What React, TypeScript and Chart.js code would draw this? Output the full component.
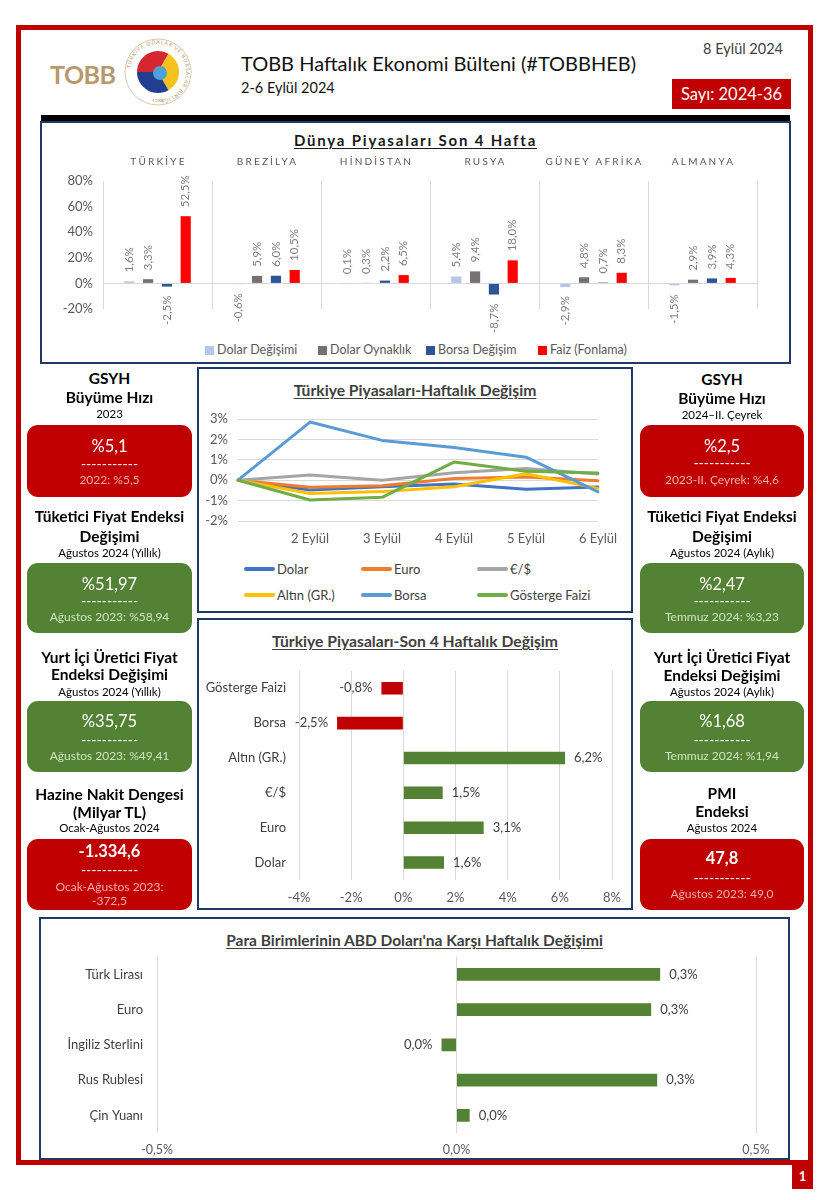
import React, { useEffect, useRef } from "react";
import { Chart, registerables } from "chart.js";

Chart.register(...registerables);

const FONT = "Lato, 'Noto Sans', sans-serif";
Chart.defaults.font.family = FONT;

// ---------- Dünya Piyasaları Son 4 Hafta ----------
const worldCountries = ["TÜRKİYE", "BREZİLYA", "HİNDİSTAN", "RUSYA", "GÜNEY AFRİKA", "ALMANYA"];
const worldSeriesNames = ["Dolar Değişimi", "Dolar Oynaklık", "Borsa Değişim", "Faiz (Fonlama)"];
const dolarDegisimi = [1.6, -0.6, 0.1, 5.4, -2.9, -1.5];
const dolarOynaklik = [3.3, 5.9, 0.3, 9.4, 4.8, 2.9];
const borsaDegisim = [-2.5, 6.0, 2.2, -8.7, 0.7, 3.9];
const faizFonlama = [52.5, 10.5, 6.5, 18.0, 8.3, 4.3];
const worldYTicks = [-20, 0, 20, 40, 60, 80];
const worldColors = ["#b4c7e7", "#767171", "#2f5597", "#ff0000"];

// ---------- Türkiye Piyasaları-Haftalık Değişim ----------
const weekDays = ["", "2 Eylül", "3 Eylül", "4 Eylül", "5 Eylül", "6 Eylül"];
const weeklyNames = ["Dolar", "Euro", "€/$", "Altın (GR.)", "Borsa", "Gösterge Faizi"];
const weeklyDolar = [0, -0.48, -0.32, -0.19, -0.44, -0.33];
const weeklyEuro = [0, -0.35, -0.27, 0.08, 0.16, -0.03];
const weeklyEurUsd = [0, 0.25, 0.0, 0.36, 0.57, 0.3];
const weeklyAltin = [0, -0.65, -0.56, -0.32, 0.32, -0.4];
const weeklyBorsa = [0, 2.85, 1.95, 1.6, 1.13, -0.57];
const weeklyFaiz = [0, -0.97, -0.84, 0.89, 0.44, 0.35];
const weeklyYTicks = [-2, -1, 0, 1, 2, 3];
const weeklyColors = ["#4472c4", "#ed7d31", "#a5a5a5", "#ffc000", "#5b9bd5", "#70ad47"];

// ---------- Türkiye Piyasaları-Son 4 Haftalık Değişim ----------
const fourWeekItems = ["Gösterge Faizi", "Borsa", "Altın (GR.)", "€/$", "Euro", "Dolar"];
const fourWeekValues = [-0.84, -2.54, 6.2, 1.51, 3.08, 1.56];
const fourWeekXTicks = [-4, -2, 0, 2, 4, 6, 8];

// ---------- Para Birimlerinin ABD Doları'na Karşı Haftalık Değişimi ----------
const fxNames = ["Türk Lirası", "Euro", "İngiliz Sterlini", "Rus Rublesi", "Çin Yuanı"];
const fxValues = [0.34, 0.325, -0.025, 0.335, 0.022];
const fxXTicks = [-0.5, 0, 0.5];

const RED = "#c00000";
const GREEN = "#548235";
const NAVY = "#1f3864";

const fmt1 = (v: number) => {
  const r = Math.round(v * 10) / 10;
  const s = (Math.abs(r) < 1e-9 ? 0 : r).toFixed(1).replace(".", ",");
  return s + "%";
};

// ---------- plugins ----------
const groupLabelPlugin = {
  id: "groupLabels",
  afterDraw(chart: any) {
    const ctx = chart.ctx;
    const xs = chart.scales.x;
    ctx.save();
    ctx.font = `10px ${FONT}`;
    (ctx as any).letterSpacing = "2.2px";
    ctx.fillStyle = "#595959";
    ctx.textAlign = "center";
    ctx.textBaseline = "middle";
    chart.data.labels.forEach((lab: string, i: number) => {
      ctx.fillText(lab, xs.getPixelForValue(i) + 1, chart.chartArea.top - 19);
    });
    ctx.restore();
  },
};

const rotatedLabelPlugin = {
  id: "rotatedLabels",
  afterDatasetsDraw(chart: any) {
    const ctx = chart.ctx;
    ctx.save();
    ctx.font = `11.5px ${FONT}`;
    ctx.fillStyle = "#7f7f7f";
    ctx.textBaseline = "middle";
    chart.data.datasets.forEach((ds: any, di: number) => {
      const meta = chart.getDatasetMeta(di);
      meta.data.forEach((bar: any, i: number) => {
        const v = ds.data[i];
        ctx.save();
        ctx.translate(bar.x, v >= 0 ? bar.y - 9 : bar.y + 9);
        ctx.rotate(-Math.PI / 2);
        ctx.textAlign = v >= 0 ? "left" : "right";
        ctx.fillText(fmt1(v), 0, 0);
        ctx.restore();
      });
    });
    ctx.restore();
  },
};

const makeHBarLabelPlugin = (size: number) => ({
  id: "hbarLabels",
  afterDatasetsDraw(chart: any) {
    const ctx = chart.ctx;
    ctx.save();
    ctx.font = `${size}px ${FONT}`;
    ctx.fillStyle = "#404040";
    ctx.textBaseline = "middle";
    chart.data.datasets.forEach((ds: any, di: number) => {
      const meta = chart.getDatasetMeta(di);
      meta.data.forEach((bar: any, i: number) => {
        const v = ds.data[i];
        if (v >= 0) {
          ctx.textAlign = "left";
          ctx.fillText(fmt1(v), bar.x + 9, bar.y);
        } else {
          ctx.textAlign = "right";
          ctx.fillText(fmt1(v), bar.x - 9, bar.y);
        }
      });
    });
    ctx.restore();
  },
});

// ---------- configs ----------
const worldConfig = (): any => ({
  type: "bar",
  data: {
    labels: worldCountries,
    datasets: [dolarDegisimi, dolarOynaklik, borsaDegisim, faizFonlama].map((d, i) => ({
      label: worldSeriesNames[i],
      data: d,
      backgroundColor: worldColors[i],
      categoryPercentage: 0.69,
      barPercentage: 0.54,
    })),
  },
  options: {
    responsive: false,
    animation: false,
    layout: { padding: { top: 31, right: 33, left: 0, bottom: 0 } },
    plugins: {
      tooltip: { enabled: false },
      legend: { display: false },
    },
    scales: {
      x: {
        ticks: { display: false },
        grid: { color: "#d9d9d9", drawTicks: false, offset: true },
        border: { display: false },
        afterFit: (s: any) => { s.height = 30; },
      },
      y: {
        min: worldYTicks[0],
        max: worldYTicks[worldYTicks.length - 1],
        ticks: { stepSize: 20, padding: 10, color: "#595959", font: { size: 13 }, callback: (v: any) => v + "%" },
        grid: {
          drawTicks: false,
          color: (c: any) => (c.tick && c.tick.value === 0 ? "#d9d9d9" : "rgba(0,0,0,0)"),
        },
        border: { display: false },
        afterFit: (s: any) => { s.width = 61; },
      },
    },
  },
  plugins: [groupLabelPlugin, rotatedLabelPlugin],
});

const weeklyConfig = (): any => ({
  type: "line",
  data: {
    labels: weekDays,
    datasets: [weeklyDolar, weeklyEuro, weeklyEurUsd, weeklyAltin, weeklyBorsa, weeklyFaiz].map((d, i) => ({
      label: weeklyNames[i],
      data: d,
      borderColor: weeklyColors[i],
      backgroundColor: weeklyColors[i],
      borderWidth: 3,
      pointRadius: 0,
      tension: 0,
      borderJoinStyle: "round",
      borderCapStyle: "round",
      order: 5 - i,
    })),
  },
  options: {
    responsive: false,
    animation: false,
    layout: { padding: { top: 19, right: 33, left: 0, bottom: 0 } },
    plugins: { legend: { display: false }, tooltip: { enabled: false } },
    scales: {
      x: {
        offset: false,
        grid: { display: false, drawTicks: false },
        border: { display: false },
        ticks: { color: "#595959", font: { size: 13 }, padding: 10, autoSkip: false, maxRotation: 0 },
        afterFit: (s: any) => { s.height = 29; },
      },
      y: {
        min: weeklyYTicks[0],
        max: weeklyYTicks[weeklyYTicks.length - 1],
        ticks: { stepSize: 1, padding: 10, color: "#595959", font: { size: 13 }, callback: (v: any) => v + "%" },
        grid: { color: "#d9d9d9", drawTicks: false },
        border: { display: false },
        afterFit: (s: any) => { s.width = 39; },
      },
    },
  },
});

const fourWeekConfig = (): any => ({
  type: "bar",
  data: {
    labels: fourWeekItems,
    datasets: [
      {
        data: fourWeekValues,
        backgroundColor: fourWeekValues.map((v) => (v < 0 ? RED : GREEN)),
        categoryPercentage: 1,
        barPercentage: 0.36,
      },
    ],
  },
  options: {
    indexAxis: "y",
    responsive: false,
    animation: false,
    layout: { padding: { top: 14, right: 19, left: 0, bottom: 0 } },
    plugins: { legend: { display: false }, tooltip: { enabled: false } },
    scales: {
      x: {
        min: fourWeekXTicks[0],
        max: fourWeekXTicks[fourWeekXTicks.length - 1],
        ticks: { stepSize: 2, padding: 10, color: "#595959", font: { size: 13 }, callback: (v: any) => v + "%" },
        grid: { color: "#d9d9d9", drawTicks: false },
        border: { display: false },
        afterFit: (s: any) => { s.height = 25; },
      },
      y: {
        ticks: { padding: 13, color: "#404040", font: { size: 13 } },
        grid: { display: false, drawTicks: false },
        border: { display: false },
        afterFit: (s: any) => { s.width = 100; },
      },
    },
  },
  plugins: [makeHBarLabelPlugin(13)],
});

const fxConfig = (): any => ({
  type: "bar",
  data: {
    labels: fxNames,
    datasets: [
      {
        data: fxValues,
        backgroundColor: GREEN,
        categoryPercentage: 1,
        barPercentage: 0.36,
      },
    ],
  },
  options: {
    indexAxis: "y",
    responsive: false,
    animation: false,
    layout: { padding: { top: 17, right: 32, left: 0, bottom: 0 } },
    plugins: { legend: { display: false }, tooltip: { enabled: false } },
    scales: {
      x: {
        min: fxXTicks[0],
        max: fxXTicks[fxXTicks.length - 1],
        ticks: {
          stepSize: 0.5,
          padding: 9,
          color: "#595959",
          font: { size: 12.5 },
          callback: (v: any) => Number(v).toFixed(1).replace(".", ",") + "%",
        },
        grid: { color: "#d9d9d9", drawTicks: false },
        border: { display: false },
        afterFit: (s: any) => { s.height = 25; },
      },
      y: {
        ticks: { padding: 14, color: "#404040", font: { size: 13 } },
        grid: { display: false, drawTicks: false },
        border: { display: false },
        afterFit: (s: any) => { s.width = 116; },
      },
    },
  },
  plugins: [makeHBarLabelPlugin(13)],
});

// ---------- components ----------
function ChartCanvas({ left, top, width, height, makeConfig }: any) {
  const ref = useRef<HTMLCanvasElement | null>(null);
  useEffect(() => {
    if (!ref.current) return;
    const chart = new Chart(ref.current, makeConfig());
    return () => chart.destroy();
  }, []);
  return (
    <canvas
      ref={ref}
      width={width}
      height={height}
      style={{ position: "absolute", left, top, width, height }}
    />
  );
}

function T({ x, w, y, text, size, bold, color, lh, spacing, underline, align }: any) {
  const L = lh || Math.round(size * 1.3);
  return (
    <div
      style={{
        position: "absolute",
        left: x,
        width: w,
        top: y - L / 2,
        height: L,
        lineHeight: L + "px",
        fontSize: size,
        fontWeight: bold ? 700 : 400,
        color: color || "#000",
        textAlign: align || "center",
        whiteSpace: "nowrap",
        letterSpacing: spacing || 0,
        textDecoration: underline ? "underline" : "none",
        textUnderlineOffset: underline ? 2 : undefined,
      }}
    >
      {text}
    </div>
  );
}

const panelsLeft = [
  { head: ["GSYH", "Büyüme Hızı"], headY: [378, 397], sub: "2023", subY: 413, box: [425, 497], value: "%5,1", valueY: 446, valueBold: false, dashY: 464, prev: ["2022: %5,5"], prevY: [480], red: true },
  { head: ["Tüketici Fiyat Endeksi", "Değişimi"], headY: [516, 536], sub: "Ağustos 2024 (Yıllık)", subY: 552, box: [563, 633], value: "%51,97", valueY: 584, valueBold: false, dashY: 601, prev: ["Ağustos 2023: %58,94"], prevY: [617], red: false },
  { head: ["Yurt İçi Üretici Fiyat", "Endeksi Değişimi"], headY: [657, 674], sub: "Ağustos 2024 (Yıllık)", subY: 691, box: [701, 772], value: "%35,75", valueY: 721, valueBold: false, dashY: 740, prev: ["Ağustos 2023: %49,41"], prevY: [756], red: false },
  { head: ["Hazine Nakit Dengesi", "(Milyar TL)"], headY: [794, 812], sub: "Ocak-Ağustos 2024", subY: 827, box: [839, 910], value: "-1.334,6", valueY: 851, valueBold: true, dashY: 870, prev: ["Ocak-Ağustos 2023:", "-372,5"], prevY: [887, 901], red: true },
];

const panelsRight = [
  { head: ["GSYH", "Büyüme Hızı"], headY: [379, 398], sub: "2024–II. Çeyrek", subY: 414, box: [425, 497], value: "%2,5", valueY: 446, valueBold: false, dashY: 463, prev: ["2023-II. Çeyrek: %4,6"], prevY: [480], red: true },
  { head: ["Tüketici Fiyat Endeksi", "Değişimi"], headY: [516, 536], sub: "Ağustos 2024 (Aylık)", subY: 552, box: [563, 633], value: "%2,47", valueY: 584, valueBold: false, dashY: 601, prev: ["Temmuz 2024: %3,23"], prevY: [617], red: false },
  { head: ["Yurt İçi Üretici Fiyat", "Endeksi Değişimi"], headY: [657, 675], sub: "Ağustos 2024 (Aylık)", subY: 691, box: [701, 772], value: "%1,68", valueY: 721, valueBold: false, dashY: 740, prev: ["Temmuz 2024: %1,94"], prevY: [756], red: false },
  { head: ["PMI", "Endeksi"], headY: [793, 811], sub: "Ağustos 2024", subY: 827, box: [839, 910], value: "47,8", valueY: 858, valueBold: true, dashY: 878, prev: ["Ağustos 2023: 49,0"], prevY: [894], red: true },
];

function Panel({ p, x, w }: any) {
  const bg = p.red ? RED : GREEN;
  const prevColor = p.red ? "#f4aaaa" : "#cfe3c0";
  return (
    <>
      {p.head.map((h: string, i: number) => (
        <T key={"h" + i} x={x - 10} w={w + 20} y={p.headY[i]} text={h} size={15.5} bold />
      ))}
      <T x={x - 10} w={w + 20} y={p.subY} text={p.sub} size={11.5} />
      <div
        style={{
          position: "absolute",
          left: x,
          top: p.box[0],
          width: w,
          height: p.box[1] - p.box[0],
          background: bg,
          borderRadius: 11,
        }}
      />
      <T x={x} w={w} y={p.valueY} text={p.value} size={16.5} bold={p.valueBold} color="#fff" />
      <T x={x} w={w} y={p.dashY} text="-----------" size={14} color="#fff" />
      {p.prev.map((t: string, i: number) => (
        <T key={"p" + i} x={x} w={w} y={p.prevY[i]} text={t} size={12} color={prevColor} />
      ))}
    </>
  );
}

const sector = (cx: number, cy: number, r: number, a0: number, a1: number) => {
  const rad = (d: number) => (d * Math.PI) / 180;
  const x0 = cx + r * Math.cos(rad(a0));
  const y0 = cy + r * Math.sin(rad(a0));
  const x1 = cx + r * Math.cos(rad(a1));
  const y1 = cy + r * Math.sin(rad(a1));
  const large = a1 - a0 > 180 ? 1 : 0;
  return `M${cx},${cy} L${x0},${y0} A${r},${r} 0 ${large} 1 ${x1},${y1} Z`;
};

function Emblem() {
  return (
    <svg width={68} height={70} viewBox="0 0 68 70" style={{ position: "absolute", left: 124, top: 37 }}>
      <defs>
        <path id="ringPath" d="M 34,35 m -28,0 a 28,28 0 1,1 56,0 a 28,28 0 1,1 -56,0" />
      </defs>
      <circle cx={34} cy={35} r={33} fill="#fff" stroke="#d9c9ab" strokeWidth={1} />
      <text fontSize={5.2} fill="#b8996f" letterSpacing={0.8}>
        <textPath href="#ringPath" startOffset="2%">TÜRKİYE ODALAR VE BORSALAR BİRLİĞİ</textPath>
      </text>
      <path d={sector(34, 35, 21, 180, 300)} fill="#d6262e" />
      <path d={sector(34, 35, 21, 300, 420)} fill="#f6c21b" />
      <path d={sector(34, 35, 21, 60, 180)} fill="#243e8f" />
      <circle cx={36} cy={36} r={7} fill="#4da3d9" />
      <text x={34} y={65} fontSize={4.5} fill="#b8996f" textAnchor="middle">TOBB</text>
    </svg>
  );
}

const worldLegendX = [205, 318, 426, 538];

export default function App() {
  return (
    <div
      style={{
        position: "absolute",
        left: 0,
        top: 0,
        width: 831,
        height: 1200,
        background: "#fff",
        fontFamily: FONT,
        overflow: "hidden",
      }}
    >
      {/* outer frame */}
      <div
        style={{
          position: "absolute",
          left: 16,
          top: 25,
          width: 797,
          height: 1140,
          border: `5px solid ${RED}`,
          boxSizing: "border-box",
        }}
      />
      {/* page number */}
      <div
        style={{
          position: "absolute",
          left: 792,
          top: 1163,
          width: 21,
          height: 26,
          background: RED,
          color: "#fff",
          fontWeight: 700,
          fontSize: 13,
          lineHeight: "26px",
          textAlign: "center",
        }}
      >
        1
      </div>

      {/* header */}
      <T x={50} w={80} y={74} text="TOBB" size={25} bold color="#b8996f" align="left" spacing={-0.5} />
      <Emblem />
      <T x={241} w={420} y={63} text="TOBB Haftalık Ekonomi Bülteni (#TOBBHEB)" size={20} color="#111" align="left" />
      <T x={241} w={200} y={87} text="2-6 Eylül 2024" size={14.5} color="#111" align="left" />
      <T x={640} w={143} y={48} text="8 Eylül 2024" size={14.5} color="#404040" align="right" />
      <div
        style={{
          position: "absolute",
          left: 672,
          top: 79,
          width: 119,
          height: 30,
          background: RED,
        }}
      />
      <T x={672} w={119} y={94} text="Sayı: 2024-36" size={16.5} color="#fff" />

      {/* world markets box */}
      <div style={{ position: "absolute", left: 41, top: 115, width: 749, height: 6, background: "#000" }} />
      <div
        style={{
          position: "absolute",
          left: 40,
          top: 121,
          width: 751,
          height: 243,
          border: `2px solid ${NAVY}`,
          boxSizing: "border-box",
        }}
      />
      <T x={40} w={751} y={140} text="Dünya Piyasaları Son 4 Hafta" size={15} bold color="#1a1a1a" spacing={1.8} underline />
      <ChartCanvas left={42} top={150} width={748} height={189} makeConfig={worldConfig} />
      {worldSeriesNames.map((n, i) => (
        <React.Fragment key={n}>
          <div
            style={{
              position: "absolute",
              left: worldLegendX[i],
              top: 346,
              width: 9,
              height: 9,
              background: worldColors[i],
            }}
          />
          <T x={worldLegendX[i] + 12} w={110} y={350} text={n} size={12.5} color="#595959" align="left" />
        </React.Fragment>
      ))}

      {/* weekly line chart box */}
      <div
        style={{
          position: "absolute",
          left: 197,
          top: 367,
          width: 436,
          height: 246,
          border: `2px solid ${NAVY}`,
          boxSizing: "border-box",
        }}
      />
      <T x={197} w={436} y={390} text="Türkiye Piyasaları-Haftalık Değişim" size={15.7} bold color="#404040" underline />
      <ChartCanvas left={199} top={400} width={432} height={150} makeConfig={weeklyConfig} />
      {weeklyNames.map((n, i) => {
        const col = i % 3;
        const row = Math.floor(i / 3);
        const lx = [244, 361, 477][col];
        const ly = [569, 595][row];
        return (
          <React.Fragment key={n}>
            <div
              style={{
                position: "absolute",
                left: lx,
                top: ly - 2,
                width: 31,
                height: 4,
                borderRadius: 2,
                background: weeklyColors[i],
              }}
            />
            <T x={lx + 33} w={120} y={ly} text={n} size={13} color="#404040" align="left" />
          </React.Fragment>
        );
      })}

      {/* four week bar chart box */}
      <div
        style={{
          position: "absolute",
          left: 197,
          top: 618,
          width: 436,
          height: 292,
          border: `2px solid ${NAVY}`,
          boxSizing: "border-box",
        }}
      />
      <T x={197} w={436} y={641} text="Türkiye Piyasaları-Son 4 Haftalık Değişim" size={15.7} bold color="#404040" underline />
      <ChartCanvas left={199} top={650} width={432} height={255} makeConfig={fourWeekConfig} />

      {/* fx box */}
      <div
        style={{
          position: "absolute",
          left: 39,
          top: 917,
          width: 751,
          height: 243,
          border: `2px solid ${NAVY}`,
          boxSizing: "border-box",
        }}
      />
      <T x={39} w={751} y={940} text="Para Birimlerinin ABD Doları'na Karşı Haftalık Değişimi" size={15.5} bold color="#404040" underline />
      <ChartCanvas left={41} top={935} width={747} height={223} makeConfig={fxConfig} />

      {/* side panels */}
      {panelsLeft.map((p, i) => (
        <Panel key={"l" + i} p={p} x={27} w={165} />
      ))}
      {panelsRight.map((p, i) => (
        <Panel key={"r" + i} p={p} x={640} w={164} />
      ))}
    </div>
  );
}
